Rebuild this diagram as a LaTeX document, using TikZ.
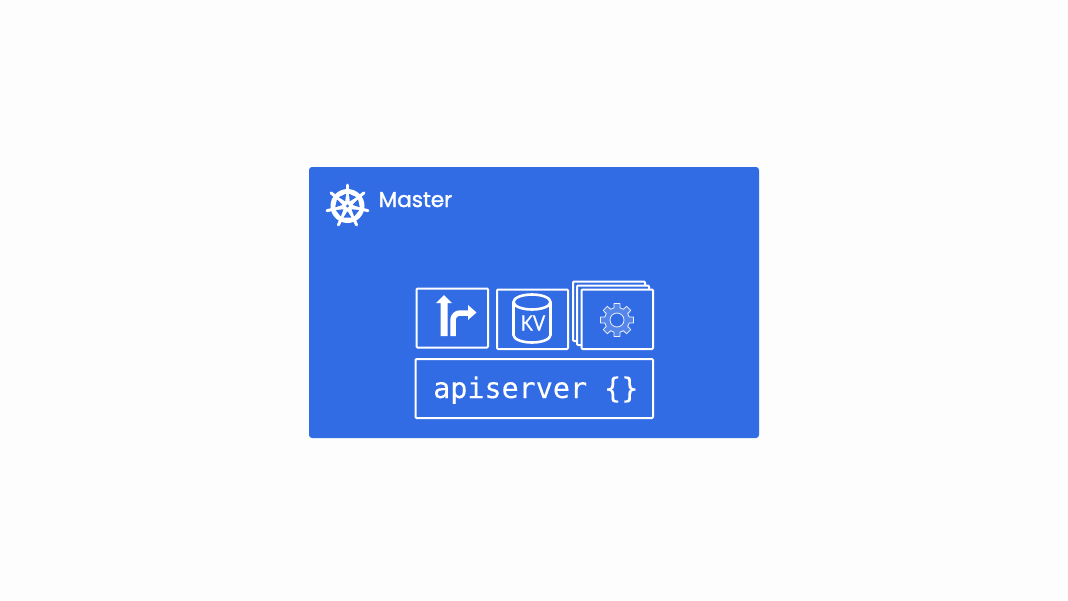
\documentclass[tikz,border=0pt]{standalone}
\usepackage{fontspec}
\setmainfont{Lato}
\newfontfamily\masterfont[FakeBold=1.5]{Poppins}
\newfontfamily\kvfont[FakeBold=0.5]{Lato}
\newfontfamily\apifont[FakeBold=0.1]{DejaVu Sans Mono}
\definecolor{kblue}{HTML}{326CE5}
\definecolor{pagebg}{HTML}{FDFDFD}
\tikzset{
  panel/.style={fill=kblue,rounded corners=3pt},
  frame/.style={draw=white,line width=2pt,fill=kblue,rounded corners=1pt},
  label/.style={text=white,inner sep=0pt,anchor=base west},
  iconline/.style={draw=white,line width=2.6pt},
}
\begin{document}
\begin{tikzpicture}[x=1pt,y=-1pt]
\useasboundingbox[fill=pagebg] (0,0) rectangle (1068,600);
\path[panel] (309,167) rectangle (759,438);
% wheel
\begin{scope}[shift={(347.5,206)}]
  \fill[white] (0,0) circle[radius=17];
  \foreach \i in {0,...,6}{
    \pgfmathsetmacro{\a}{-90+\i*360/7}
    \draw[white,line width=3pt,line cap=round] (\a:15) -- (\a:21);
    \pgfmathsetmacro{\b}{\a+360/14}
    \fill[kblue,rounded corners=.5pt] (\b-19:12.4) -- (\b+19:12.4) -- (\b:5.2) -- cycle;
  }
  \fill[kblue] (0,0) circle[radius=1.6];
\end{scope}
\node[label,font=\masterfont\fontsize{21.5}{24}\selectfont] (master) at (378.5,207) {Master};
% route box
\draw[frame] (416.5,288.5) rectangle (488,347.5);
\fill[white] (440.5,336) -- (440.5,303) -- (436,303) -- (444,295) -- (452,303) -- (447.5,303) -- (447.5,336) -- cycle;
\draw[white,line width=5.5pt,line join=round] (453,336) -- (453,320) arc[start angle=180,end angle=270,radius=7] -- (469,313);
\fill[white] (468,305) -- (476.5,312.5) -- (468,320) -- cycle;
% kv box
\draw[frame] (497,289.5) rectangle (568,349);
\draw[iconline] (513.5,302) -- (513.5,335) arc[start angle=180,end angle=0,x radius=18.5,y radius=7.5] -- (550.5,302);
\draw[iconline] (532,302) ellipse[x radius=18.5,y radius=7.5];
\node[text=white,inner sep=0pt,xscale=.87,font=\kvfont\fontsize{21}{22}\selectfont] (kv) at (533,323) {KV};
% controller stack
\draw[frame] (573,281.5) rectangle (645,341);
\draw[frame] (577,285.5) rectangle (649,345);
\draw[frame] (581.5,289.5) rectangle (653,349);
% gear
\begin{scope}[shift={(617,320)}]
  \draw[white,draw opacity=.9,line width=.8pt,fill=white,fill opacity=.18,even odd rule,line join=round]
    (-14:12.5) foreach \a in {0,45,...,315}{
      -- (\a-14:12.5) -- (\a-10:16.8) -- (\a+10:16.8) -- (\a+14:12.5)
    } -- cycle
    (0,0) circle[radius=7];
\end{scope}
% apiserver
\draw[frame] (415.5,359) rectangle (653,418);
\node[label,font=\apifont\fontsize{28.4}{30}\selectfont] (api) at (433,398) {apiserver \{\}};
\end{tikzpicture}
\end{document}
